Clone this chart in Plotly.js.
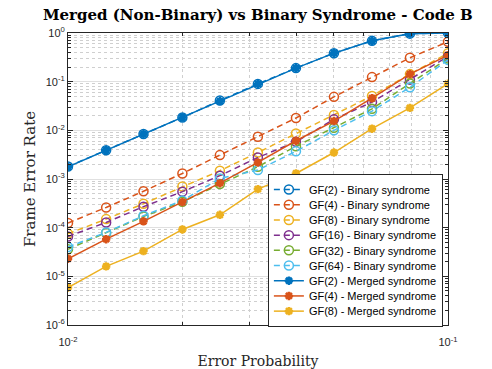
<!DOCTYPE html>
<html><head><meta charset="utf-8">
<script src="https://cdn.plot.ly/plotly-3.0.1.min.js"></script>
<style>body{margin:0;background:#fff}#chart{width:492px;height:369px}</style>
</head><body><div id="chart"></div>
<script>
const errorProb = [0.01, 0.0126, 0.0158, 0.02, 0.0251, 0.0316, 0.0398, 0.0501, 0.0631, 0.0794, 0.1];
const gf2Binary  = [1.8e-3, 3.9e-3, 8.4e-3, 0.0184, 0.041, 0.090, 0.19, 0.385, 0.69, 0.97, 1.0];
const gf4Binary  = [1.25e-4, 2.6e-4, 5.6e-4, 1.3e-3, 3.1e-3, 7.4e-3, 0.0179, 0.0487, 0.124, 0.31, 0.66];
const gf8Binary  = [7.5e-5, 1.5e-4, 3.1e-4, 7.0e-4, 1.48e-3, 3.5e-3, 8.6e-3, 0.0206, 0.051, 0.143, 0.385];
const gf16Binary = [6.6e-5, 1.28e-4, 2.7e-4, 5.5e-4, 1.17e-3, 2.77e-3, 5.8e-3, 0.0168, 0.038, 0.11, 0.33];
const gf32Binary = [3.6e-5, 7.8e-5, 1.7e-4, 3.4e-4, 7.9e-4, 1.79e-3, 4.7e-3, 0.0113, 0.0277, 0.092, 0.30];
const gf64Binary = [4.0e-5, 8.0e-5, 1.76e-4, 3.6e-4, 1.03e-3, 1.53e-3, 3.7e-3, 0.010, 0.0248, 0.0766, 0.28];
const gf2Merged  = [1.78e-3, 3.9e-3, 8.4e-3, 0.0184, 0.040, 0.090, 0.19, 0.385, 0.69, 0.97, 1.0];
const gf4Merged  = [2.3e-5, 5.8e-5, 1.35e-4, 3.35e-4, 8.2e-4, 2.19e-3, 6.1e-3, 0.0155, 0.0457, 0.143, 0.35];
const gf8Merged  = [5.9e-6, 1.6e-5, 3.3e-5, 9.2e-5, 1.84e-4, 6.2e-4, 1.3e-3, 3.5e-3, 0.0108, 0.029, 0.091];

const seriesNames = ['GF(2) - Binary syndrome','GF(4) - Binary syndrome','GF(8) - Binary syndrome',
  'GF(16) - Binary syndrome','GF(32) - Binary syndrome','GF(64) - Binary syndrome',
  'GF(2) - Merged syndrome','GF(4) - Merged syndrome','GF(8) - Merged syndrome'];
const seriesData = [gf2Binary, gf4Binary, gf8Binary, gf16Binary, gf32Binary, gf64Binary, gf2Merged, gf4Merged, gf8Merged];
const colors = ['#0072BD','#D95319','#EDB120','#7E2F8E','#77AC30','#4DBEEE','#0072BD','#D95319','#EDB120'];

const xTickVals = [0.01, 0.1];
const xTickText = ['10<sup>-2</sup>', '10<sup>-1</sup>'];
const yTickVals = [1e-6, 1e-5, 1e-4, 1e-3, 1e-2, 1e-1, 1];
const yTickText = ['10<sup>-6</sup>', '10<sup>-5</sup>', '10<sup>-4</sup>', '10<sup>-3</sup>', '10<sup>-2</sup>', '10<sup>-1</sup>', '10<sup>0</sup>'];

const traces = seriesData.map((y, i) => {
  const merged = i >= 6;
  return {
    x: errorProb, y: y, name: seriesNames[i], type: 'scatter', mode: 'lines+markers',
    line: {color: colors[i], width: 1.5, dash: merged ? 'solid' : '6px,4px'},
    marker: merged
      ? {symbol: 'asterisk-open', size: 7, color: colors[i], line: {color: colors[i], width: 2.5}}
      : {symbol: 'circle-open', size: 9, color: colors[i], line: {color: colors[i], width: 1.5}}
  };
});

const axisCommon = {
  type: 'log', showline: true, mirror: 'ticks', linecolor: '#262626', linewidth: 1,
  ticks: 'inside', ticklen: 5, tickcolor: '#262626',
  showgrid: true, gridcolor: '#e0e0e0', gridwidth: 1, zeroline: false,
  tickmode: 'array',
  tickfont: {family: 'Liberation Sans, Arial, sans-serif', size: 11, color: '#262626'},
  minor: {dtick: 'D1', ticks: 'inside', ticklen: 3, tickcolor: '#262626', showgrid: true, gridcolor: '#cfcfcf', griddash: 'dot', gridwidth: 1}
};

const layout = {
  width: 492, height: 369,
  paper_bgcolor: '#ffffff', plot_bgcolor: '#ffffff',
  margin: {l: 68, r: 44, t: 33, b: 42},
  showlegend: true,
  title: {text: '<b>Merged (Non-Binary) vs Binary Syndrome - Code B</b>',
          font: {family: 'DejaVu Serif, serif', size: 15, color: '#000'}, x: 0.524, xanchor: 'center', y: 0.96, yanchor: 'middle'},
  xaxis: Object.assign({}, axisCommon, {range: [-2, -1], tickvals: xTickVals, ticktext: xTickText, ticklabelstandoff: 7,
    title: {text: 'Error Probability', font: {family: 'DejaVu Serif, serif', size: 14, color: '#262626'}, standoff: 12}, automargin: false}),
  yaxis: Object.assign({}, axisCommon, {range: [-6, 0], tickvals: yTickVals, ticktext: yTickText,
    title: {text: 'Frame Error Rate', font: {family: 'DejaVu Serif, serif', size: 15, color: '#262626'}, standoff: 6}, automargin: false}),
  legend: {x: 0.526, y: 0.517, xanchor: 'left', yanchor: 'top', bgcolor: '#ffffff',
    bordercolor: '#262626', borderwidth: 1,
    font: {family: 'Liberation Sans, Arial, sans-serif', size: 11, color: '#000'}, tracegroupgap: 0}
};

Plotly.newPlot('chart', traces, layout, {displayModeBar: false, staticPlot: true}).then(gd => {
  // tighten legend row spacing to match the reference
  const items = Array.from(gd.querySelectorAll('.legend .traces'));
  if (items.length < 2) return;
  const parse = el => (el.getAttribute('transform') || '').match(/translate\(\s*([-\d.]+)[ ,]+([-\d.]+)/);
  const m0 = parse(items[0]);
  if (!m0) return;
  const y0 = +m0[2], step = 15.2;
  items.forEach((el, i) => {
    const m = parse(el);
    el.setAttribute('transform', 'translate(' + m[1] + ',' + (y0 + i * step) + ')');
  });
  const bg = gd.querySelector('.legend .bg');
  if (bg) bg.setAttribute('height', 2 * y0 + (items.length - 1) * step - 1);
});
</script></body></html>
